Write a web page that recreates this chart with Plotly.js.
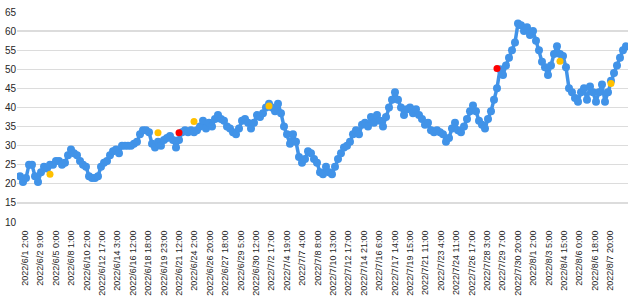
<!DOCTYPE html>
<html>
<head>
<meta charset="utf-8">
<script src="https://cdn.plot.ly/plotly-3.0.1.min.js"></script>
<style>
  html, body { margin: 0; padding: 0; background: #fff; }
  #chart { width: 630px; height: 301px; }
</style>
</head>
<body>
<div id="chart"></div>
<script>
// Tick labels shown along the category axis (one every few categories)
const tickLabels = [
  "2022/6/1 2:00", "2022/6/2 9:00", "2022/6/5 0:00", "2022/6/8 1:00", "2022/6/10 2:00",
  "2022/6/12 17:00", "2022/6/14 3:00", "2022/6/16 12:00", "2022/6/18 18:00", "2022/6/19 23:00",
  "2022/6/21 12:00", "2022/6/24 2:00", "2022/6/26 20:00", "2022/6/27 18:00", "2022/6/29 5:00",
  "2022/6/30 12:00", "2022/7/2 17:00", "2022/7/4 19:00", "2022/7/7 4:00", "2022/7/8 8:00",
  "2022/7/10 13:00", "2022/7/12 17:00", "2022/7/14 21:00", "2022/7/16 6:00", "2022/7/17 14:00",
  "2022/7/19 15:00", "2022/7/21 11:00", "2022/7/23 4:00", "2022/7/24 11:00", "2022/7/26 17:00",
  "2022/7/28 3:00", "2022/7/29 7:00", "2022/7/30 20:00", "2022/8/1 2:00", "2022/8/3 5:00",
  "2022/8/4 15:00", "2022/8/6 0:00", "2022/8/6 18:00", "2022/8/7 20:00"
];

// Main series values (in category order)
const values = [
  22, 20.5, 21.5, 25, 25, 22, 20.5, 23, 24.5, 24,
  25, 25, 26, 26, 25, 25.5, 27.5, 29, 28, 27.5,
  26, 25, 24.5, 22, 21.5, 21.5, 22, 24.5, 25.5, 26,
  27.5, 28.5, 29, 28, 30, 30, 30, 30, 30.5, 31,
  33, 34, 34, 33.5, 30.5, 29.5, 31, 30, 31.5, 32,
  32.5, 31.5, 29.5, 31.5, 33.5, 34, 33.5, 34, 33.5, 34,
  35, 36.5, 34.5, 36, 35, 37, 38, 37, 36.5, 35,
  34.5, 33.5, 33, 34.5, 36.5, 37, 36, 34.5, 36, 38,
  37.5, 38.5, 40, 41, 40, 39, 41, 38.5, 35, 33,
  30.5, 33, 31, 27, 25.5, 26.5, 28.5, 28, 26.5, 25.5,
  23, 22.5, 24.5, 23, 22.5, 24.5, 26.5, 28, 29.5, 30,
  31, 33, 34, 33, 35.5, 36, 35, 37.5, 36, 38,
  36.5, 35, 37.5, 40, 42, 44, 42, 40, 38, 39.5,
  40, 38.5, 39.5, 38, 37, 35.5, 36, 34, 33.5, 34,
  33.5, 33, 31, 32, 34.5, 36, 34, 33.5, 35, 37,
  39, 40.5, 39, 36.5, 35.5, 34.5, 37, 39, 42, 45,
  50, 48.5, 51, 53, 55, 57, 62, 61.5, 60, 61,
  59, 60, 57.5, 55, 52, 50.5, 48.5, 51, 54, 56,
  54, 53.5, 50.5, 45, 44, 42.5, 41.5, 44, 45, 42,
  45.5, 44, 41.5, 44, 46, 41.5, 44, 47, 49, 51,
  53, 55, 56
];

// Highlighted points (category index, value)
const yellowIdx = [10, 46, 58, 83, 180, 197];
const yellowVal = [22.5, 33.4, 36.3, 40.4, 52.1, 46.3];
const redIdx = [53, 159];
const redVal = [33.4, 50.2];

const xIdx = values.map((_, i) => i);
const tickStart = 1.667, tickStep = 5.1333;
const tickVals = tickLabels.map((_, j) => tickStart + tickStep * j);

const blue = '#4193e8';
const traces = [
  {
    x: xIdx, y: values, type: 'scatter', mode: 'lines+markers',
    line: { color: blue, width: 3.5 },
    marker: { color: blue, size: 8 },
    hoverinfo: 'skip', showlegend: false
  },
  {
    x: yellowIdx, y: yellowVal, type: 'scatter', mode: 'markers',
    marker: { color: '#ffc000', size: 7 }, showlegend: false
  },
  {
    x: redIdx, y: redVal, type: 'scatter', mode: 'markers',
    marker: { color: '#ff0000', size: 7 }, showlegend: false
  }
];

const xRange = [-1, 202.67];
const layout = {
  width: 630, height: 301,
  margin: { l: 17, r: 2, t: 12, b: 79 },
  paper_bgcolor: '#ffffff', plot_bgcolor: '#ffffff',
  font: { family: 'Liberation Sans, Arial, sans-serif', color: '#404040' },
  showlegend: false,
  xaxis: {
    range: xRange, tickmode: 'array', tickvals: tickVals, ticktext: tickLabels,
    tickangle: -90, tickfont: { size: 9, color: '#262626' },
    ticks: 'outside', ticklen: 4, tickcolor: 'rgba(0,0,0,0)',
    showgrid: false, zeroline: false, showline: false
  },
  xaxis2: {
    range: xRange, overlaying: 'x', anchor: 'y', side: 'bottom',
    tickmode: 'linear', tick0: 0, dtick: 0.5,
    ticks: 'inside', ticklen: 3, tickwidth: 1, tickcolor: '#c0c0c0',
    showticklabels: false, showgrid: false, zeroline: false,
    showline: true, linecolor: '#c8c8c8', linewidth: 1
  },
  yaxis: {
    range: [10, 65], tickmode: 'linear', tick0: 10, dtick: 5,
    tickfont: { size: 10, color: '#262626' },
    showgrid: true, gridcolor: '#dcdcdc', gridwidth: 1.3,
    zeroline: false, showline: false, ticks: ''
  }
};

Plotly.newPlot('chart', traces, layout, { staticPlot: true, displayModeBar: false });
</script>
</body>
</html>
